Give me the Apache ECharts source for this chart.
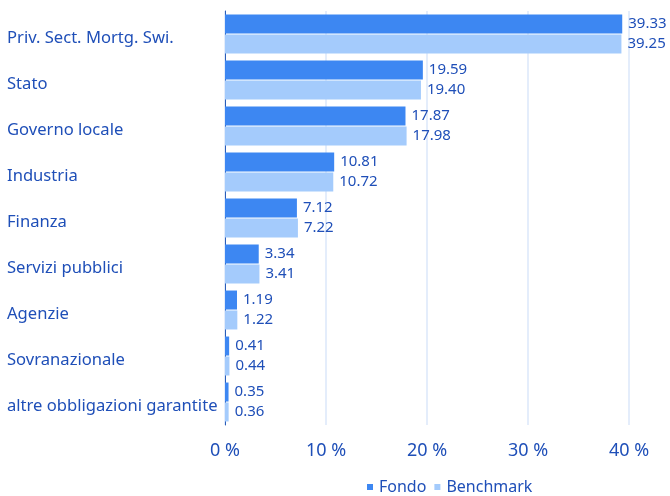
<!DOCTYPE html>
<html>
<head>
<meta charset="utf-8">
<script src="https://cdn.jsdelivr.net/npm/echarts@6/dist/echarts.min.js"></script>
<style>
  html, body { margin: 0; padding: 0; background: #fff; }
  #chart { width: 670px; height: 496px; }
</style>
</head>
<body>
<div id="chart"></div>
<script>
  // categorie (dall'alto in basso)
  const categories = ['Priv. Sect. Mortg. Swi.', 'Stato', 'Governo locale', 'Industria', 'Finanza',
    'Servizi pubblici', 'Agenzie', 'Sovranazionale', 'altre obbligazioni garantite'];
  const fondo = [39.33, 19.59, 17.87, 10.81, 7.12, 3.34, 1.19, 0.41, 0.35];
  const benchmark = [39.25, 19.40, 17.98, 10.72, 7.22, 3.41, 1.22, 0.44, 0.36];
  const xTicks = [0, 10, 20, 30, 40];

  const textColor = '#1f4fb8';
  const font = 'Noto Sans';

  let myChart = echarts.init(document.getElementById('chart'));

  let labelOpt = {
    show: true,
    position: 'right',
    distance: 6,
    color: textColor,
    fontFamily: font,
    fontSize: 15,
    formatter: (p) => p.value.toFixed(2)
  };

  let option = {
    backgroundColor: '#fff',
    animation: false,
    legend: {
      left: 362,
      top: 474,
      icon: 'rect',
      itemWidth: 6,
      itemHeight: 6,
      itemGap: 8,
      textStyle: { color: textColor, fontFamily: font, fontSize: 16, padding: [0, 0, 0, 1] },
      data: ['Fondo', 'Benchmark']
    },
    grid: {
      top: 11,
      bottom: 71,
      left: 225,
      right: 41
    },
    xAxis: {
      type: 'value',
      min: xTicks[0],
      max: xTicks[xTicks.length - 1],
      interval: 10,
      axisLine: { show: false },
      axisTick: { show: false },
      splitLine: { show: true, lineStyle: { color: '#e4edfb', width: 2 } },
      axisLabel: {
        color: textColor,
        fontFamily: font,
        fontSize: 18,
        margin: 17,
        formatter: (v) => v + ' %'
      }
    },
    yAxis: {
      type: 'category',
      inverse: true,
      data: categories,
      axisLine: { show: true, lineStyle: { color: '#2a5db8', width: 1 } },
      axisTick: { show: false },
      axisLabel: {
        color: textColor,
        fontFamily: font,
        fontSize: 16.6,
        align: 'left',
        margin: 218,
        verticalAlign: 'top',
        lineHeight: 8
      }
    },
    series: [
      {
        name: 'Fondo',
        type: 'bar',
        data: fondo,
        barWidth: 19,
        barGap: '5%',
        itemStyle: { color: '#3d87f2' },
        label: labelOpt
      },
      {
        name: 'Benchmark',
        type: 'bar',
        data: benchmark,
        barWidth: 19,
        itemStyle: { color: '#a4cbfc' },
        label: labelOpt
      }
    ]
  };

  myChart.setOption(option);
</script>
</body>
</html>
